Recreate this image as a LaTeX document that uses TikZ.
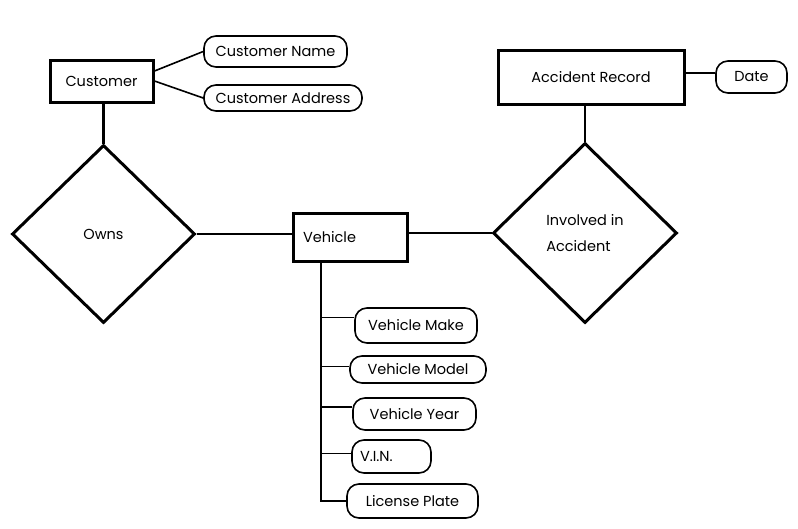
\documentclass[tikz,border=0pt]{standalone}
\usepackage{fontspec}
\setmainfont{Poppins}
\usepackage{tikz}
\usetikzlibrary{shapes}
\tikzset{entity/.style={draw,line width=3pt,inner xsep=10pt,minimum height=44pt},
 relation/.style={draw,diamond,line width=3pt,inner sep=0pt},
 attrib/.style={draw,rounded corners=12pt,line width=1.6pt,inner xsep=8pt,minimum height=31pt},
 link/.style={line width=2.2pt},
 thinlink/.style={line width=1.6pt},
 }

\begin{document}
\begin{tikzpicture}[x=1pt,y=-1pt,font=\fontsize{14.5}{26}\selectfont]
        \useasboundingbox (0,0) rectangle (798,528);
        \node[entity,minimum width=103pt,minimum height=42pt] (cust) at (101.5,81) {Customer};
        \node[attrib,minimum width=143pt] (cname) at (275.5,51.5) {Customer Name};
        \node[attrib,minimum width=158pt,minimum height=26pt] (caddr) at (283,98) {Customer Address};
        \node[relation,minimum width=183pt,minimum height=178pt] (owns) at (103.5,234) {Owns};
        \node[entity,minimum width=114pt,minimum height=48pt,text width=94pt,align=left] (veh) at (350,237) {Vehicle};
        \node[relation,minimum width=184pt,minimum height=180pt,align=left] (inv) at (585,233) {Involved in\\Accident};
        \node[entity,minimum width=186pt,minimum height=54pt] (acc) at (591,77) {Accident Record};
        \node[attrib,minimum width=71pt,minimum height=32pt] (date) at (751.5,77) {Date};
        \node[attrib,minimum width=122pt,minimum height=35pt] (make) at (416,325.5) {Vehicle Make};
        \node[attrib,minimum width=136pt,minimum height=27pt] (model) at (418,369.5) {Vehicle Model};
        \node[attrib,minimum width=123pt,minimum height=32pt] (year) at (414.5,414) {Vehicle Year};
        \node[attrib,minimum height=33pt,text width=63pt,align=left] (vin) at (391.5,456.5) {V.I.N.};
        \node[attrib,minimum width=131pt,minimum height=34pt] (plate) at (412.5,501) {License Plate};
        \draw[thinlink] ([yshift=10pt]cust.east) -- (cname.west);
        \draw[thinlink] (cust.east) -- (caddr.west);
        \draw[link,line width=3pt] (owns.north |- cust.south) -- (owns.north);
        \draw[link] (owns.east) -- (owns.east -| veh.west);
        \draw[link] (inv.west -| veh.east) -- (inv.west);
        \draw[link] (inv.north |- acc.south) -- (inv.north);
        \draw[link] ([yshift=4pt]acc.east) -- ([yshift=4pt]date.west);
        \coordinate (trunk) at ([xshift=-29pt]veh.south);
        \draw[thinlink] (trunk) |- (plate.west);
        \foreach \a/\s in {make/8,model/3,year/7,vin/3}{
            \coordinate (p\a) at ([yshift=\s pt]\a.west);
            \draw[thinlink] (trunk |- p\a) -- (p\a);
        }
    \end{tikzpicture}
\end{document}
